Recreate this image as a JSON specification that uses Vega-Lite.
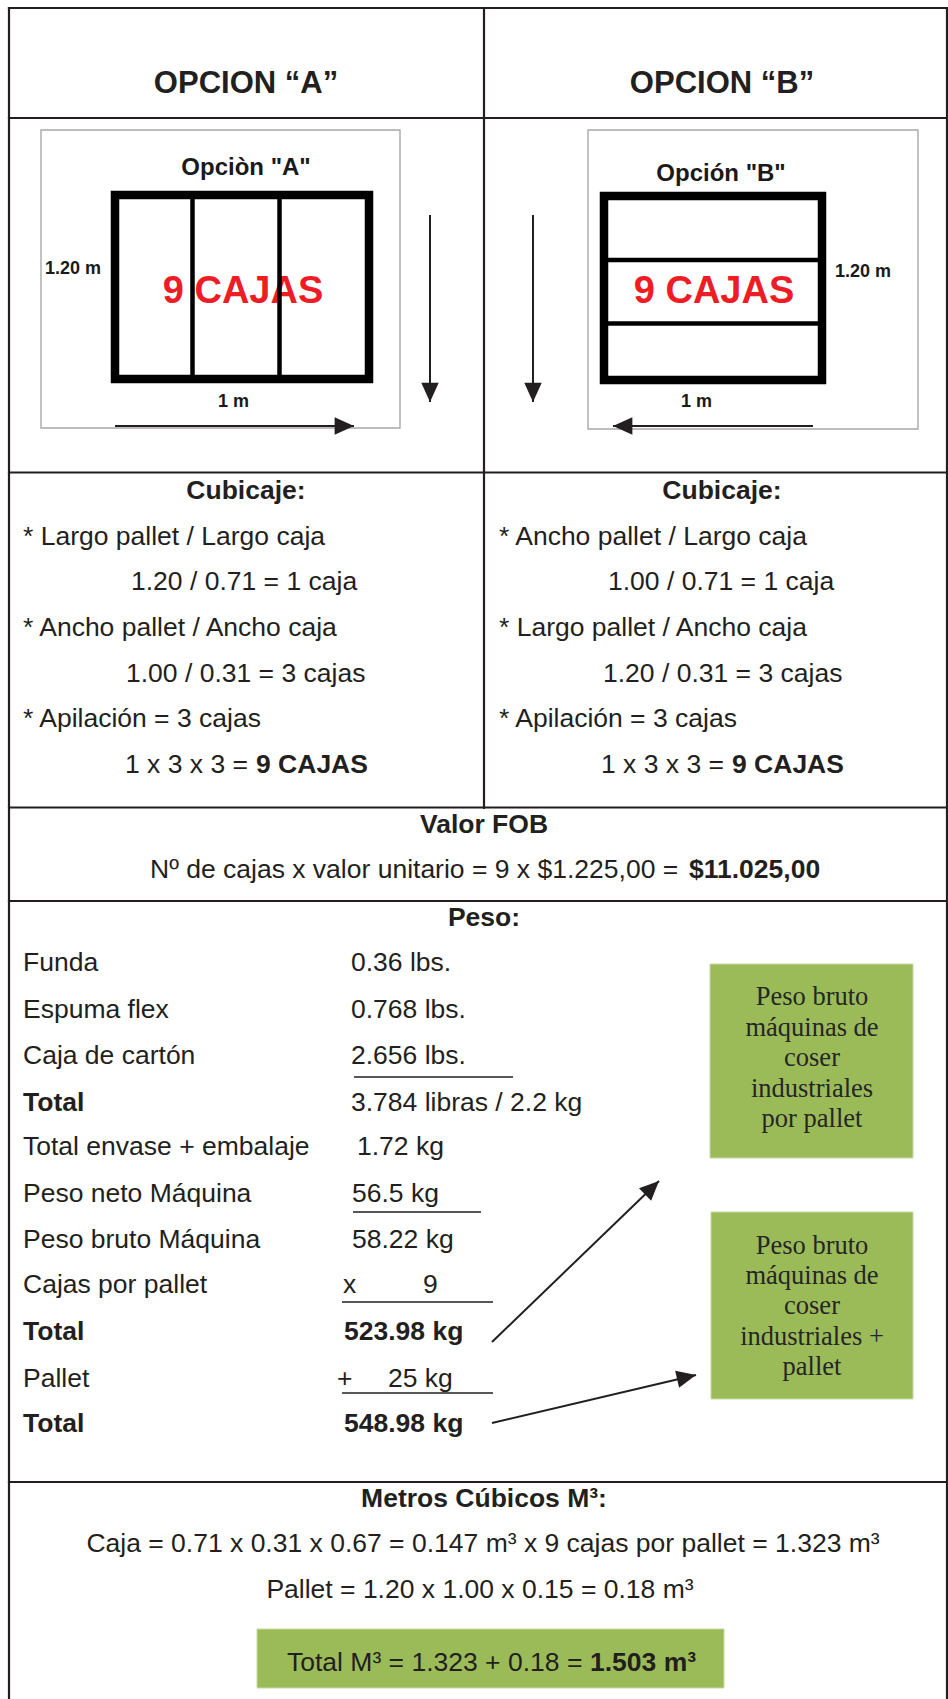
{
  "$schema": "https://vega.github.io/schema/vega-lite/v6.json",
  "width": 948,
  "height": 1699,
  "autosize": {"type": "none"},
  "padding": 0,
  "background": "white",
  "config": {"view": {"stroke": null}},
  "datasets": {
    "table": [
      {"x": 9, "y": 8, "x2": 947, "y2": 8},
      {"x": 9, "y": 8, "x2": 9, "y2": 1699},
      {"x": 947, "y": 8, "x2": 947, "y2": 1699},
      {"x": 484, "y": 8, "x2": 484, "y2": 808},
      {"x": 9, "y": 118, "x2": 947, "y2": 118},
      {"x": 9, "y": 472.5, "x2": 947, "y2": 472.5},
      {"x": 9, "y": 807.5, "x2": 947, "y2": 807.5},
      {"x": 9, "y": 901, "x2": 947, "y2": 901},
      {"x": 9, "y": 1482, "x2": 947, "y2": 1482}
    ],
    "frames": [
      {"x": 41, "y": 130, "x2": 400, "y2": 428},
      {"x": 588, "y": 130, "x2": 918, "y2": 429}
    ],
    "pallets": [
      {"x": 115, "y": 195, "x2": 369, "y2": 379},
      {"x": 604, "y": 196, "x2": 822, "y2": 380}
    ],
    "dividers": [
      {"x": 192.5, "y": 199, "x2": 192.5, "y2": 375},
      {"x": 279.5, "y": 199, "x2": 279.5, "y2": 375},
      {"x": 608, "y": 260, "x2": 818, "y2": 260},
      {"x": 608, "y": 323.5, "x2": 818, "y2": 323.5}
    ],
    "arrows": [
      {"x": 115, "y": 426, "x2": 354, "y2": 426, "angle": 90},
      {"x": 430, "y": 215, "x2": 430, "y2": 402, "angle": 180},
      {"x": 533, "y": 215, "x2": 533, "y2": 402, "angle": 180},
      {"x": 813, "y": 426, "x2": 613, "y2": 426, "angle": 270},
      {"x": 492, "y": 1342, "x2": 659, "y2": 1181, "angle": 46},
      {"x": 492, "y": 1423, "x2": 696, "y2": 1375, "angle": 77}
    ],
    "underlines": [
      {"x": 354, "y": 1077, "x2": 513, "y2": 1077},
      {"x": 353, "y": 1212, "x2": 481, "y2": 1212},
      {"x": 342, "y": 1302, "x2": 493, "y2": 1302},
      {"x": 342, "y": 1393, "x2": 493, "y2": 1393}
    ],
    "green": [
      {"x": 710, "y": 964, "x2": 913, "y2": 1158},
      {"x": 711, "y": 1212, "x2": 913, "y2": 1399},
      {"x": 257, "y": 1629, "x2": 724, "y2": 1688}
    ],
    "headers": [
      {"x": 246, "y": 93, "text": "OPCION “A”"},
      {"x": 722, "y": 93, "text": "OPCION “B”"}
    ],
    "diagTitles": [
      {"x": 246, "y": 175, "text": "Opciòn \"A\""},
      {"x": 721, "y": 181, "text": "Opción \"B\""}
    ],
    "redText": [
      {"x": 243, "y": 303, "text": "9 CAJAS"},
      {"x": 714, "y": 303, "text": "9 CAJAS"}
    ],
    "dims": [
      {"x": 45, "y": 274, "text": "1.20 m"},
      {"x": 218, "y": 407, "text": "1 m"},
      {"x": 835, "y": 277, "text": "1.20 m"},
      {"x": 681, "y": 407, "text": "1 m"}
    ],
    "centerBold": [
      {"x": 246, "y": 499, "text": "Cubicaje:"},
      {"x": 722, "y": 499, "text": "Cubicaje:"},
      {"x": 484, "y": 833, "text": "Valor FOB"},
      {"x": 484, "y": 926, "text": "Peso:"},
      {"x": 484, "y": 1507, "text": "Metros Cúbicos M³:"}
    ],
    "centerNormal": [
      {"x": 483, "y": 1552, "text": "Caja = 0.71 x 0.31 x 0.67 = 0.147 m³ x 9 cajas por pallet = 1.323 m³"},
      {"x": 480, "y": 1598, "text": "Pallet = 1.20 x 1.00 x 0.15 = 0.18 m³"}
    ],
    "leftNormal": [
      {"x": 23, "y": 545, "text": "* Largo pallet / Largo caja"},
      {"x": 131, "y": 590, "text": "1.20 / 0.71 = 1 caja"},
      {"x": 23, "y": 636, "text": "* Ancho pallet / Ancho caja"},
      {"x": 126, "y": 682, "text": "1.00 / 0.31 = 3 cajas"},
      {"x": 23, "y": 727, "text": "* Apilación = 3 cajas"},
      {"x": 125, "y": 773, "text": "1 x 3 x 3 ="},
      {"x": 499, "y": 545, "text": "* Ancho pallet / Largo caja"},
      {"x": 608, "y": 590, "text": "1.00 / 0.71 = 1 caja"},
      {"x": 499, "y": 636, "text": "* Largo pallet / Ancho caja"},
      {"x": 603, "y": 682, "text": "1.20 / 0.31 = 3 cajas"},
      {"x": 499, "y": 727, "text": "* Apilación = 3 cajas"},
      {"x": 601, "y": 773, "text": "1 x 3 x 3 ="},
      {"x": 150, "y": 878, "text": "Nº de cajas x valor unitario = 9 x $1.225,00 ="},
      {"x": 23, "y": 971, "text": "Funda"},
      {"x": 23, "y": 1018, "text": "Espuma flex"},
      {"x": 23, "y": 1064, "text": "Caja de cartón"},
      {"x": 23, "y": 1155, "text": "Total envase + embalaje"},
      {"x": 23, "y": 1202, "text": "Peso neto Máquina"},
      {"x": 23, "y": 1248, "text": "Peso bruto Máquina"},
      {"x": 23, "y": 1293, "text": "Cajas por pallet"},
      {"x": 23, "y": 1387, "text": "Pallet"},
      {"x": 351, "y": 971, "text": "0.36 lbs."},
      {"x": 351, "y": 1018, "text": "0.768 lbs."},
      {"x": 351, "y": 1064, "text": "2.656 lbs."},
      {"x": 351, "y": 1111, "text": "3.784 libras / 2.2 kg"},
      {"x": 357, "y": 1155, "text": "1.72 kg"},
      {"x": 352, "y": 1202, "text": "56.5 kg"},
      {"x": 352, "y": 1248, "text": "58.22 kg"},
      {"x": 343, "y": 1293, "text": "x"},
      {"x": 423, "y": 1293, "text": "9"},
      {"x": 337, "y": 1387, "text": "+"},
      {"x": 388, "y": 1387, "text": "25 kg"},
      {"x": 287, "y": 1671, "text": "Total M³ = 1.323 + 0.18 ="}
    ],
    "leftBold": [
      {"x": 256, "y": 773, "text": "9 CAJAS"},
      {"x": 732, "y": 773, "text": "9 CAJAS"},
      {"x": 689, "y": 878, "text": "$11.025,00"},
      {"x": 23, "y": 1111, "text": "Total"},
      {"x": 23, "y": 1340, "text": "Total"},
      {"x": 23, "y": 1432, "text": "Total"},
      {"x": 344, "y": 1340, "text": "523.98 kg"},
      {"x": 344, "y": 1432, "text": "548.98 kg"},
      {"x": 590, "y": 1671, "text": "1.503 m³"}
    ],
    "serif": [
      {"x": 812, "y": 1005, "text": "Peso bruto"},
      {"x": 812, "y": 1036, "text": "máquinas de"},
      {"x": 812, "y": 1066, "text": "coser"},
      {"x": 812, "y": 1097, "text": "industriales"},
      {"x": 812, "y": 1127, "text": "por pallet"},
      {"x": 812, "y": 1254, "text": "Peso bruto"},
      {"x": 812, "y": 1284, "text": "máquinas de"},
      {"x": 812, "y": 1314, "text": "coser"},
      {"x": 812, "y": 1345, "text": "industriales +"},
      {"x": 812, "y": 1375, "text": "pallet"}
    ]
  },
  "layer": [
    {
      "data": {"name": "green"},
      "mark": {"type": "rect", "fill": "#9bbb59", "stroke": "#c9d9a6", "strokeWidth": 1},
      "encoding": {
        "x": {"field": "x", "type": "quantitative", "scale": {"domain": [0, 948], "nice": false, "zero": false}, "axis": null},
        "x2": {"field": "x2"},
        "y": {"field": "y", "type": "quantitative", "scale": {"domain": [0, 1699], "nice": false, "zero": false, "reverse": true}, "axis": null},
        "y2": {"field": "y2"}
      }
    },
    {
      "data": {"name": "frames"},
      "mark": {"type": "rect", "fill": "white", "stroke": "#a8a8a8", "strokeWidth": 1.4},
      "encoding": {
        "x": {"field": "x", "type": "quantitative", "scale": {"domain": [0, 948], "nice": false, "zero": false}, "axis": null},
        "x2": {"field": "x2"},
        "y": {"field": "y", "type": "quantitative", "scale": {"domain": [0, 1699], "nice": false, "zero": false, "reverse": true}, "axis": null},
        "y2": {"field": "y2"}
      }
    },
    {
      "data": {"name": "pallets"},
      "mark": {"type": "rect", "fill": "white", "stroke": "#000000", "strokeWidth": 8.5},
      "encoding": {
        "x": {"field": "x", "type": "quantitative", "scale": {"domain": [0, 948], "nice": false, "zero": false}, "axis": null},
        "x2": {"field": "x2"},
        "y": {"field": "y", "type": "quantitative", "scale": {"domain": [0, 1699], "nice": false, "zero": false, "reverse": true}, "axis": null},
        "y2": {"field": "y2"}
      }
    },
    {
      "data": {"name": "redText"},
      "mark": {"type": "text", "font": "Liberation Sans", "fontWeight": "bold", "fontSize": 38, "align": "center", "baseline": "alphabetic", "color": "#ee1c25"},
      "encoding": {
        "x": {"field": "x", "type": "quantitative", "scale": {"domain": [0, 948], "nice": false, "zero": false}, "axis": null},
        "y": {"field": "y", "type": "quantitative", "scale": {"domain": [0, 1699], "nice": false, "zero": false, "reverse": true}, "axis": null},
        "text": {"field": "text"}
      }
    },
    {
      "data": {"name": "dividers"},
      "mark": {"type": "rule", "color": "#000000", "strokeWidth": 4.5},
      "encoding": {
        "x": {"field": "x", "type": "quantitative", "scale": {"domain": [0, 948], "nice": false, "zero": false}, "axis": null},
        "x2": {"field": "x2"},
        "y": {"field": "y", "type": "quantitative", "scale": {"domain": [0, 1699], "nice": false, "zero": false, "reverse": true}, "axis": null},
        "y2": {"field": "y2"}
      }
    },
    {
      "data": {"name": "table"},
      "mark": {"type": "rule", "color": "#231f20", "strokeWidth": 2.2, "strokeCap": "square"},
      "encoding": {
        "x": {"field": "x", "type": "quantitative", "scale": {"domain": [0, 948], "nice": false, "zero": false}, "axis": null},
        "x2": {"field": "x2"},
        "y": {"field": "y", "type": "quantitative", "scale": {"domain": [0, 1699], "nice": false, "zero": false, "reverse": true}, "axis": null},
        "y2": {"field": "y2"}
      }
    },
    {
      "data": {"name": "underlines"},
      "mark": {"type": "rule", "color": "#231f20", "strokeWidth": 1.6},
      "encoding": {
        "x": {"field": "x", "type": "quantitative", "scale": {"domain": [0, 948], "nice": false, "zero": false}, "axis": null},
        "x2": {"field": "x2"},
        "y": {"field": "y", "type": "quantitative", "scale": {"domain": [0, 1699], "nice": false, "zero": false, "reverse": true}, "axis": null},
        "y2": {"field": "y2"}
      }
    },
    {
      "data": {"name": "arrows"},
      "mark": {"type": "rule", "color": "#231f20", "strokeWidth": 2},
      "encoding": {
        "x": {"field": "x", "type": "quantitative", "scale": {"domain": [0, 948], "nice": false, "zero": false}, "axis": null},
        "x2": {"field": "x2"},
        "y": {"field": "y", "type": "quantitative", "scale": {"domain": [0, 1699], "nice": false, "zero": false, "reverse": true}, "axis": null},
        "y2": {"field": "y2"}
      }
    },
    {
      "data": {"name": "arrows"},
      "mark": {"type": "point", "shape": "M0,0L-0.45,1L0.45,1Z", "size": 1500, "filled": true, "color": "#231f20", "opacity": 1, "strokeWidth": 0},
      "encoding": {
        "x": {"field": "x2", "type": "quantitative", "scale": {"domain": [0, 948], "nice": false, "zero": false}, "axis": null},
        "y": {"field": "y2", "type": "quantitative", "scale": {"domain": [0, 1699], "nice": false, "zero": false, "reverse": true}, "axis": null},
        "angle": {"field": "angle", "type": "quantitative", "scale": null}
      }
    },
    {
      "data": {"name": "headers"},
      "mark": {"type": "text", "font": "Liberation Sans", "fontWeight": "bold", "fontSize": 31, "align": "center", "baseline": "alphabetic", "color": "#231f20"},
      "encoding": {
        "x": {"field": "x", "type": "quantitative", "scale": {"domain": [0, 948], "nice": false, "zero": false}, "axis": null},
        "y": {"field": "y", "type": "quantitative", "scale": {"domain": [0, 1699], "nice": false, "zero": false, "reverse": true}, "axis": null},
        "text": {"field": "text"}
      }
    },
    {
      "data": {"name": "diagTitles"},
      "mark": {"type": "text", "font": "Liberation Sans", "fontWeight": "bold", "fontSize": 24, "align": "center", "baseline": "alphabetic", "color": "#1a1a1a"},
      "encoding": {
        "x": {"field": "x", "type": "quantitative", "scale": {"domain": [0, 948], "nice": false, "zero": false}, "axis": null},
        "y": {"field": "y", "type": "quantitative", "scale": {"domain": [0, 1699], "nice": false, "zero": false, "reverse": true}, "axis": null},
        "text": {"field": "text"}
      }
    },
    {
      "data": {"name": "dims"},
      "mark": {"type": "text", "font": "Liberation Sans", "fontWeight": "bold", "fontSize": 18, "align": "left", "baseline": "alphabetic", "color": "#1a1a1a"},
      "encoding": {
        "x": {"field": "x", "type": "quantitative", "scale": {"domain": [0, 948], "nice": false, "zero": false}, "axis": null},
        "y": {"field": "y", "type": "quantitative", "scale": {"domain": [0, 1699], "nice": false, "zero": false, "reverse": true}, "axis": null},
        "text": {"field": "text"}
      }
    },
    {
      "data": {"name": "centerBold"},
      "mark": {"type": "text", "font": "Liberation Sans", "fontWeight": "bold", "fontSize": 26.5, "align": "center", "baseline": "alphabetic", "color": "#231f20"},
      "encoding": {
        "x": {"field": "x", "type": "quantitative", "scale": {"domain": [0, 948], "nice": false, "zero": false}, "axis": null},
        "y": {"field": "y", "type": "quantitative", "scale": {"domain": [0, 1699], "nice": false, "zero": false, "reverse": true}, "axis": null},
        "text": {"field": "text"}
      }
    },
    {
      "data": {"name": "centerNormal"},
      "mark": {"type": "text", "font": "Liberation Sans", "fontSize": 26.5, "align": "center", "baseline": "alphabetic", "color": "#231f20"},
      "encoding": {
        "x": {"field": "x", "type": "quantitative", "scale": {"domain": [0, 948], "nice": false, "zero": false}, "axis": null},
        "y": {"field": "y", "type": "quantitative", "scale": {"domain": [0, 1699], "nice": false, "zero": false, "reverse": true}, "axis": null},
        "text": {"field": "text"}
      }
    },
    {
      "data": {"name": "leftNormal"},
      "mark": {"type": "text", "font": "Liberation Sans", "fontSize": 26.5, "align": "left", "baseline": "alphabetic", "color": "#231f20"},
      "encoding": {
        "x": {"field": "x", "type": "quantitative", "scale": {"domain": [0, 948], "nice": false, "zero": false}, "axis": null},
        "y": {"field": "y", "type": "quantitative", "scale": {"domain": [0, 1699], "nice": false, "zero": false, "reverse": true}, "axis": null},
        "text": {"field": "text"}
      }
    },
    {
      "data": {"name": "leftBold"},
      "mark": {"type": "text", "font": "Liberation Sans", "fontWeight": "bold", "fontSize": 26.5, "align": "left", "baseline": "alphabetic", "color": "#231f20"},
      "encoding": {
        "x": {"field": "x", "type": "quantitative", "scale": {"domain": [0, 948], "nice": false, "zero": false}, "axis": null},
        "y": {"field": "y", "type": "quantitative", "scale": {"domain": [0, 1699], "nice": false, "zero": false, "reverse": true}, "axis": null},
        "text": {"field": "text"}
      }
    },
    {
      "data": {"name": "serif"},
      "mark": {"type": "text", "font": "Liberation Serif", "fontSize": 26.5, "align": "center", "baseline": "alphabetic", "color": "#262626"},
      "encoding": {
        "x": {"field": "x", "type": "quantitative", "scale": {"domain": [0, 948], "nice": false, "zero": false}, "axis": null},
        "y": {"field": "y", "type": "quantitative", "scale": {"domain": [0, 1699], "nice": false, "zero": false, "reverse": true}, "axis": null},
        "text": {"field": "text"}
      }
    }
  ]
}
